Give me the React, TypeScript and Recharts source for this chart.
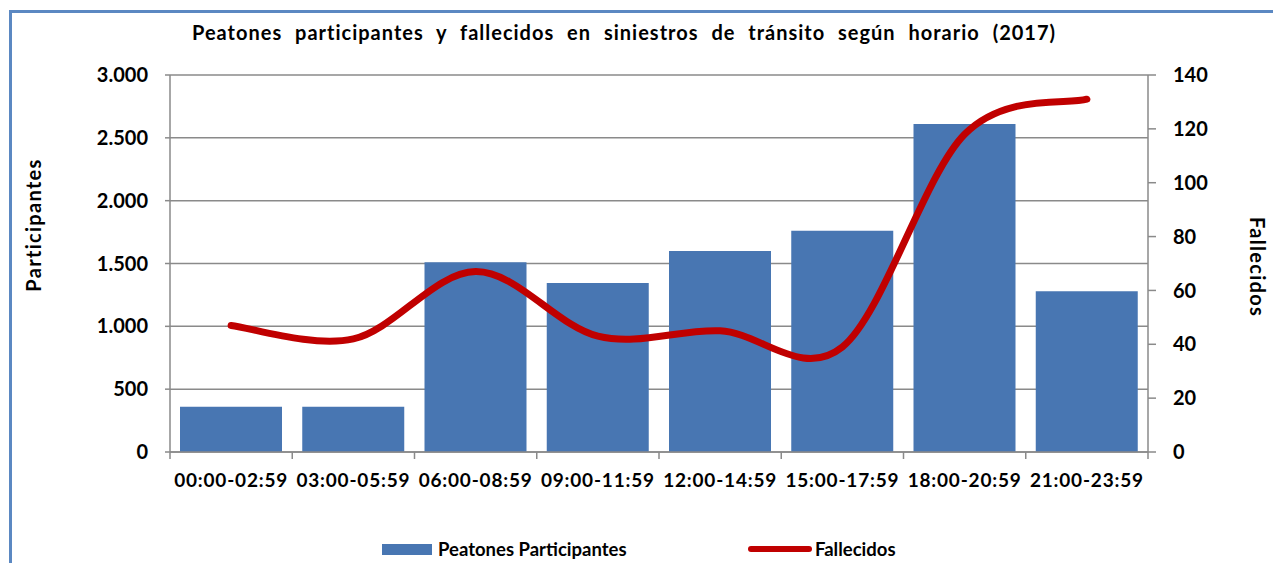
import React from 'react';
import { ComposedChart, Bar, Line, XAxis, YAxis, CartesianGrid, Legend } from 'recharts';

/* -------------------------------------------------------
   DATA
-------------------------------------------------------- */
const horarios = [
  '00:00-02:59',
  '03:00-05:59',
  '06:00-08:59',
  '09:00-11:59',
  '12:00-14:59',
  '15:00-17:59',
  '18:00-20:59',
  '21:00-23:59',
];
const participantes = [360, 360, 1510, 1345, 1600, 1760, 2610, 1280];
const fallecidos = [47, 42, 67, 43, 45, 39, 118, 131];
const leftTicks = [0, 500, 1000, 1500, 2000, 2500, 3000];
const rightTicks = [0, 20, 40, 60, 80, 100, 120, 140];

const data = horarios.map((h, i) => ({
  horario: h,
  participantes: participantes[i],
  fallecidos: fallecidos[i],
}));

/* -------------------------------------------------------
   LAYOUT / STYLE
-------------------------------------------------------- */
const W = 1273;
const H = 563;
const LEFT_AXIS_W = 170;
const RIGHT_AXIS_W = 125;
const PLOT_W = W - LEFT_AXIS_W - RIGHT_AXIS_W;
const HALF_BAND = PLOT_W / horarios.length / 2;
const FONT = 'Lato, "Open Sans", sans-serif';
const BLUE = '#4876B2';
const RED = '#C00000';
const GRAY = '#8A8A8A';
const TICK_MARGIN_X = 22;

const fmt = (v: number) => String(v).replace(/\B(?=(\d{3})+(?!\d))/g, '.');

// Excel-like smoothed line (Catmull-Rom through the points)
const smoothCurve = (context: any) => {
  let pts: number[][] = [];
  return {
    areaStart() {},
    areaEnd() {},
    lineStart() {
      pts = [];
    },
    point(x: number, y: number) {
      pts.push([+x, +y]);
    },
    lineEnd() {
      const n = pts.length;
      if (!n) return;
      context.moveTo(pts[0][0], pts[0][1]);
      for (let i = 0; i < n - 1; i++) {
        const p0 = pts[Math.max(i - 1, 0)];
        const p1 = pts[i];
        const p2 = pts[i + 1];
        const p3 = pts[Math.min(i + 2, n - 1)];
        context.bezierCurveTo(
          p1[0] + (p2[0] - p0[0]) / 6,
          p1[1] + (p2[1] - p0[1]) / 6,
          p2[0] - (p3[0] - p1[0]) / 6,
          p2[1] - (p3[1] - p1[1]) / 6,
          p2[0],
          p2[1]
        );
      }
    },
  };
};

const XTick = (props: any) => {
  const { x, y, payload, index } = props;
  const axisY = y - TICK_MARGIN_X;
  const last = index === horarios.length - 1;
  return (
    <g>
      <line x1={x - HALF_BAND} x2={x - HALF_BAND} y1={axisY} y2={axisY + 7} stroke={GRAY} strokeWidth={1.5} />
      {last && (
        <line x1={x + HALF_BAND} x2={x + HALF_BAND} y1={axisY} y2={axisY + 7} stroke={GRAY} strokeWidth={1.5} />
      )}
      <text
        x={x}
        y={y}
        dy="0.71em"
        textAnchor="middle"
        fontFamily={FONT}
        fontWeight={700}
        fontSize={19}
        letterSpacing={0.8}
        fill="#000"
      >
        {payload.value}
      </text>
    </g>
  );
};

const LegendContent = ({ payload }: any) => {
  const items = payload || [];
  return (
    <div style={{ position: 'relative', height: 24, fontFamily: FONT, fontWeight: 700, fontSize: 18.5, color: '#000' }}>
      {items.map((entry: any) => {
        const isLine = entry.type === 'line';
        return (
          <div
            key={entry.value}
            style={{
              position: 'absolute',
              left: isLine ? 748 : 382,
              top: 0,
              display: 'flex',
              alignItems: 'center',
              height: 24,
              whiteSpace: 'nowrap',
            }}
          >
            {isLine ? (
              <span style={{ display: 'inline-block', width: 64, height: 6, borderRadius: 3, background: RED, marginRight: 3 }} />
            ) : (
              <span style={{ display: 'inline-block', width: 50, height: 11, background: BLUE, marginRight: 6 }} />
            )}
            {entry.value}
          </div>
        );
      })}
    </div>
  );
};

const axisTitle = (label: string, x: number, y: number, angle: number) => () => (
  <text
    x={x}
    y={y}
    transform={`rotate(${angle}, ${x}, ${y})`}
    textAnchor="middle"
    dominantBaseline="central"
    fontFamily={FONT}
    fontWeight={700}
    fontSize={20}
    letterSpacing={1.3}
    fill="#000"
  >
    {label}
  </text>
);

/* -------------------------------------------------------
   COMPONENT
-------------------------------------------------------- */
export default function App() {
  return (
    <div style={{ position: 'absolute', left: 0, top: 0, width: W, height: H, background: '#fff', overflow: 'hidden' }}>
      {/* frame */}
      <div style={{ position: 'absolute', left: 9, top: 10, width: W, height: 3, background: '#5B88C2' }} />
      <div style={{ position: 'absolute', left: 9, top: 10, width: 3, height: H, background: '#5B88C2' }} />
      <div
        style={{
          position: 'absolute',
          left: 0,
          top: 20,
          width: 1248,
          textAlign: 'center',
          fontFamily: FONT,
          fontWeight: 700,
          fontSize: 20,
          lineHeight: '24px',
          wordSpacing: 7,
          letterSpacing: 1,
          color: '#000',
          whiteSpace: 'nowrap',
        }}
      >
        Peatones participantes y fallecidos en siniestros de tránsito según horario (2017)
      </div>
      <ComposedChart
        width={W}
        height={H}
        data={data}
        margin={{ top: 75, right: 0, left: 0, bottom: 0 }}
        barCategoryGap={10}
        style={{ position: 'absolute', left: 0, top: 0 }}
      >
        <CartesianGrid yAxisId="left" vertical={false} stroke={GRAY} strokeWidth={1.5} />
        <XAxis
          dataKey="horario"
          height={111}
          axisLine={{ stroke: GRAY, strokeWidth: 1.5 }}
          tickLine={false}
          tickSize={0}
          tickMargin={TICK_MARGIN_X}
          interval={0}
          tick={<XTick />}
        />
        <YAxis
          yAxisId="left"
          width={LEFT_AXIS_W}
          domain={[0, 3000]}
          ticks={leftTicks}
          tickFormatter={fmt}
          axisLine={{ stroke: GRAY, strokeWidth: 1.5 }}
          tickLine={{ stroke: GRAY, strokeWidth: 1.5 }}
          tickSize={5}
          tickMargin={17}
          tick={{ fontFamily: FONT, fontWeight: 700, fontSize: 20, fill: '#000' }}
          label={{ content: axisTitle('Participantes', 33, 225, -90) }}
        />
        <YAxis
          yAxisId="right"
          orientation="right"
          width={RIGHT_AXIS_W}
          domain={[0, 140]}
          ticks={rightTicks}
          axisLine={{ stroke: GRAY, strokeWidth: 1.5 }}
          tickLine={{ stroke: GRAY, strokeWidth: 1.5 }}
          tickSize={8}
          tickMargin={17}
          tick={{ fontFamily: FONT, fontWeight: 700, fontSize: 20, fill: '#000' }}
          label={{ content: axisTitle('Fallecidos', 1258, 267, 90) }}
        />
        <Legend
          verticalAlign="middle"
          align="center"
          layout="horizontal"
          wrapperStyle={{ top: 537, left: 0, width: W }}
          content={<LegendContent />}
        />
        <Bar
          yAxisId="left"
          dataKey="participantes"
          name="Peatones Participantes"
          fill={BLUE}
          legendType="rect"
          isAnimationActive={false}
        />
        <Line
          yAxisId="right"
          dataKey="fallecidos"
          name="Fallecidos"
          type={smoothCurve as any}
          stroke={RED}
          strokeWidth={7}
          strokeLinecap="round"
          dot={false}
          activeDot={false}
          legendType="line"
          isAnimationActive={false}
        />
      </ComposedChart>
    </div>
  );
}
